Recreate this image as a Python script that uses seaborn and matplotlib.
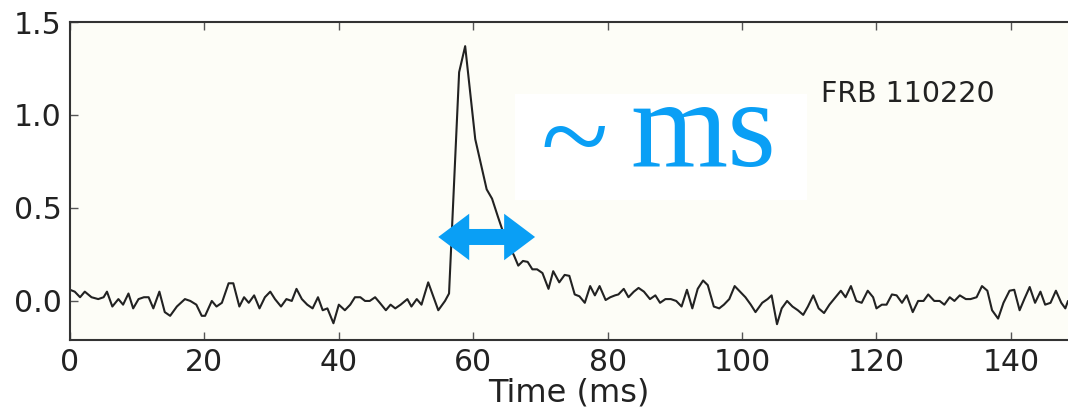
import matplotlib
matplotlib.use('Agg')
import numpy as np
import pandas as pd
import seaborn as sns
import matplotlib.pyplot as plt
from matplotlib.patches import FancyArrow, Rectangle

# values (time in ms, flux in arbitrary units)
time_ms = [
    0.0, 0.7, 1.5, 2.2, 3.2, 4.2, 5.0, 5.5, 6.3, 7.2, 7.9, 8.7, 9.4, 10.2, 11.0, 11.7,
    12.4, 13.3, 14.1, 14.9, 15.9, 17.1, 17.9, 18.8, 19.6, 20.1, 21.1, 21.8, 22.6, 23.6,
    24.3, 25.2, 25.9, 26.6, 27.4, 28.2, 29.0, 29.8, 30.5, 31.4, 32.2, 33.0, 33.7, 34.5,
    35.3, 36.1, 36.9, 37.6, 38.3, 39.2, 40.0, 40.9, 41.7, 42.4, 43.2, 43.9, 44.6, 45.4,
    46.1, 47.0, 47.7, 48.4, 49.2, 50.2, 50.8, 51.6, 52.3, 53.3, 54.0, 54.8, 55.8, 56.4,
    57.9, 58.8, 60.3, 62.0, 62.8, 63.7, 65.2, 66.0, 66.7, 67.4, 68.1, 68.8, 69.5, 70.3,
    71.2, 71.9, 72.8, 73.6, 74.3, 75.1, 75.8, 76.6, 77.4, 78.1, 78.8, 79.7, 80.4, 81.1,
    81.6, 82.4, 83.1, 83.9, 84.6, 85.4, 86.3, 87.1, 87.8, 88.6, 89.4, 90.2, 91.0, 91.8,
    92.6, 93.4, 94.2, 94.9, 95.8, 96.6, 97.3, 98.1, 98.9, 99.7, 100.5, 101.3, 102.0,
    103.0, 103.8, 104.4, 105.2, 105.9, 106.7, 107.5, 108.3, 109.1, 109.8, 110.6, 111.4,
    112.2, 113.0, 113.9, 114.7, 115.4, 116.2, 117.0, 117.8, 118.7, 119.5, 120.0, 120.8,
    121.5, 122.3, 123.0, 123.8, 124.5, 125.4, 126.2, 127.0, 127.7, 128.6, 129.4, 130.1,
    130.9, 131.6, 132.4, 133.3, 134.0, 134.9, 135.7, 136.5, 137.2, 138.1, 138.9, 139.8,
    140.5, 141.3, 142.0, 142.8, 143.6, 144.4, 145.1, 145.9, 146.7, 147.5, 148.1, 148.5,
]
flux = [
    0.06, 0.05, 0.02, 0.05, 0.02, 0.01, 0.02, 0.05, -0.03, 0.01, -0.02, 0.04, -0.04, 0.01, 0.02, 0.02,
    -0.04, 0.05, -0.06, -0.08, -0.03, 0.01, 0.0, -0.02, -0.08, -0.08, 0.0, -0.03, -0.01, 0.095,
    0.095, -0.03, 0.02, -0.01, 0.03, -0.04, 0.02, 0.05, 0.01, -0.03, 0.01, 0.0, 0.065, 0.01,
    -0.02, -0.04, 0.02, -0.05, -0.04, -0.12, -0.02, -0.05, -0.02, 0.02, 0.02, 0.0, 0.0, 0.02,
    -0.01, -0.05, -0.02, -0.04, -0.02, 0.01, -0.03, 0.01, -0.02, 0.10, 0.03, -0.05, 0.0, 0.04,
    1.23, 1.37, 0.87, 0.60, 0.55, 0.45, 0.29, 0.25, 0.19, 0.215, 0.21, 0.17, 0.17, 0.15,
    0.065, 0.16, 0.10, 0.14, 0.135, 0.035, 0.025, -0.01, 0.08, 0.03, 0.08, 0.005, 0.02, 0.03,
    0.035, 0.065, 0.02, 0.05, 0.07, 0.05, 0.01, 0.03, -0.01, 0.01, 0.01, 0.0, -0.03, 0.06,
    -0.04, 0.065, 0.11, 0.085, -0.03, -0.04, -0.02, 0.01, 0.08, 0.05, 0.02, -0.02, -0.06,
    -0.01, 0.01, 0.03, -0.125, -0.04, 0.0, -0.03, -0.05, -0.075, -0.03, 0.03, -0.04,
    -0.065, -0.02, 0.02, 0.055, 0.02, 0.08, 0.0, -0.01, 0.055, 0.02, -0.04, -0.02,
    -0.02, 0.035, 0.03, -0.01, 0.03, -0.06, 0.0, 0.0, 0.035, 0.0, 0.0, -0.02,
    0.02, 0.0, 0.03, 0.01, 0.01, 0.02, 0.08, 0.055, -0.05, -0.095, -0.01, 0.055,
    0.06, -0.05, 0.01, 0.075, -0.01, 0.05, -0.02, -0.01, 0.055, -0.01, -0.04, 0.0,
]
x_ticks = [0, 20, 40, 60, 80, 100, 120, 140]
y_ticks = [0.0, 0.5, 1.0, 1.5]

df = pd.DataFrame({'Time (ms)': time_ms, 'flux': flux})

sns.set_style('ticks')
plt.rcParams['font.family'] = ['DejaVu Sans']

blue = '#0a9ff5'
ink = '#222222'

fig = plt.figure(figsize=(10.68, 4.11), dpi=100)
ax = fig.add_axes([70 / 1068, 71 / 411, 998 / 1068, 318 / 411])
ax.set_facecolor('#fdfdf7')

sns.lineplot(data=df, x='Time (ms)', y='flux', ax=ax, color=ink, lw=1.5,
             estimator=None, sort=False)

ax.set_xlim(0, 148.5)
ax.set_ylim(-0.21, 1.5)
ax.set_xticks(x_ticks)
ax.set_yticks(y_ticks)
ax.set_xticklabels([str(t) for t in x_ticks])
ax.set_yticklabels([f'{t:.1f}' for t in y_ticks])
ax.set_ylabel('')
ax.set_xlabel('Time (ms)', fontsize=23, color=ink, labelpad=0)
ax.tick_params(axis='both', direction='in', length=6, width=1, colors='#555555',
               labelcolor=ink, labelsize=21.5, top=True, right=False, pad=6)

for side in ['left', 'bottom', 'top']:
    ax.spines[side].set_color('#333333')
    ax.spines[side].set_linewidth(1.5)
ax.spines['right'].set_visible(False)

# annotations
ax.text(0.753, 0.748, 'FRB 110220', transform=ax.transAxes, fontsize=20.5,
        color=ink, ha='left', va='baseline')

ax.add_patch(Rectangle((0.446, 0.44), 0.292, 0.334, transform=ax.transAxes,
                       facecolor='white', edgecolor='none', zorder=3))
ax.text(0.471, 0.509, '~', transform=ax.transAxes, fontsize=90,
        family='Liberation Serif', color=blue, ha='left', va='baseline', zorder=4)
ax.text(0.561, 0.547, 'ms', transform=ax.transAxes, fontsize=90,
        family='Liberation Serif', color=blue, ha='left', va='baseline', zorder=4)

# double-headed arrow showing the pulse width (halves overlap to avoid a seam)
mid, half, y_arrow = 62.0, 7.2, 0.344
for d in (1, -1):
    ax.add_patch(FancyArrow(mid - d * 1.0, y_arrow, d * (half + 1.0), 0, width=0.086,
                            head_width=0.25, head_length=4.6, length_includes_head=True,
                            color=blue, lw=0, zorder=5))

fig.savefig('out.png', dpi=100, facecolor='white')
